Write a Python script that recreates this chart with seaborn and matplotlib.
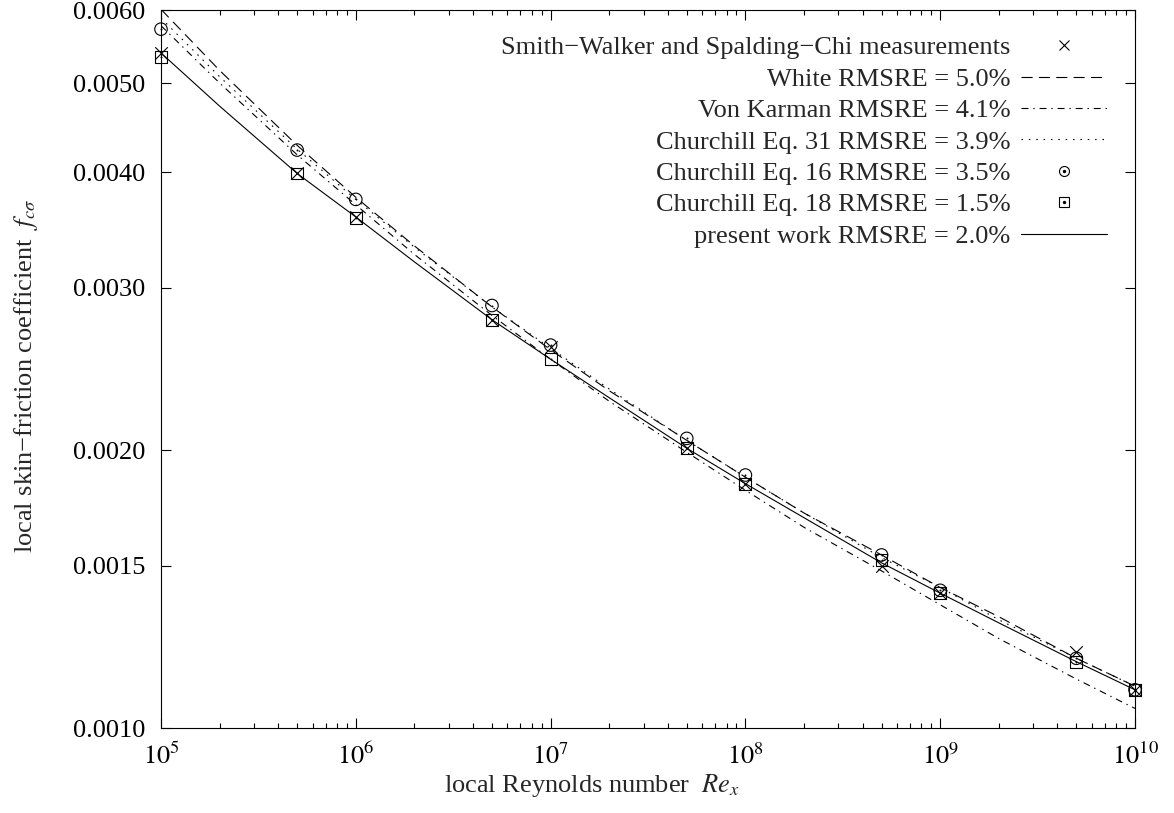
import numpy as np
import pandas as pd
import matplotlib
matplotlib.use("Agg")
import matplotlib.pyplot as plt
from matplotlib.lines import Line2D
from matplotlib.legend_handler import HandlerTuple
from matplotlib.ticker import FixedLocator, FixedFormatter, NullLocator, LogLocator
import seaborn as sns

# Reynolds numbers at which the correlations are tabulated
re_curve = [1e5, 2e5, 5e5, 1e6, 2e6, 5e6, 1e7, 2e7, 5e7, 1e8, 2e8, 5e8, 1e9, 2e9, 5e9, 1e10]
white = [0.00601, 0.00516, 0.00428, 0.00376, 0.00333, 0.00286, 0.00257, 0.00232,
         0.00205, 0.00187, 0.00171, 0.00154, 0.00142, 0.00132, 0.00119, 0.00111]
von_karman = [0.00577, 0.00500, 0.00418, 0.00369, 0.00326, 0.00280, 0.00251, 0.00226,
              0.00199, 0.00181, 0.00165, 0.00148, 0.00136, 0.00125, 0.00113, 0.00105]
churchill31 = [0.00588, 0.00508, 0.00424, 0.00374, 0.00332, 0.00286, 0.00258, 0.00233,
               0.00205, 0.00187, 0.00171, 0.00153, 0.00142, 0.00131, 0.00119, 0.00111]
present = [0.00539, 0.00472, 0.00399, 0.00358, 0.00320, 0.00277, 0.00251, 0.00228,
           0.00201, 0.00184, 0.00169, 0.00151, 0.00140, 0.00130, 0.00118, 0.00110]

# Reynolds numbers of the discrete points
re_pts = [1e5, 5e5, 1e6, 5e6, 1e7, 5e7, 1e8, 5e8, 1e9, 5e9, 1e10]
measured = [0.00539, 0.00399, 0.00358, 0.00277, 0.00259, 0.00201, 0.00184, 0.00150,
            0.00140, 0.00121, 0.00110]
churchill16 = [0.00572, 0.00423, 0.00374, 0.00287, 0.00260, 0.00206, 0.00188, 0.00154,
               0.00141, 0.00119, 0.00110]
churchill18 = [0.00534, 0.00399, 0.00357, 0.00277, 0.00251, 0.00201, 0.00184, 0.00152,
               0.00140, 0.00118, 0.00110]

labels = [
    "Smith\u2212Walker and Spalding\u2212Chi measurements",
    "White RMSRE = 5.0%",
    "Von Karman RMSRE = 4.1%",
    "Churchill Eq. 31 RMSRE = 3.9%",
    "Churchill Eq. 16 RMSRE = 3.5%",
    "Churchill Eq. 18 RMSRE = 1.5%",
    "present work RMSRE = 2.0%",
]
y_ticks = [0.0010, 0.0015, 0.0020, 0.0030, 0.0040, 0.0050, 0.0060]
y_ticklabels = ["0.0010", "0.0015", "0.0020", "0.0030", "0.0040", "0.0050", "0.0060"]
x_ticks = [1e5, 1e6, 1e7, 1e8, 1e9, 1e10]
x_ticklabels = [r"$10^{5}$", r"$10^{6}$", r"$10^{7}$", r"$10^{8}$", r"$10^{9}$", r"$10^{10}$"]

sns.set_style("ticks")
plt.rcParams["font.family"] = ["Liberation Serif", "DejaVu Serif"]
plt.rcParams["mathtext.fontset"] = "stix"
plt.rcParams["font.size"] = 19
plt.rcParams["lines.scale_dashes"] = False

FS = 19
LW = 0.8
MS = 9

fig = plt.figure(figsize=(11.74, 8.13), dpi=100)
fig.patch.set_facecolor("white")
ax = fig.add_axes([161 / 1174, 1 - 728 / 813, 974 / 1174, 718 / 813])
ax.set_facecolor("white")

curves = pd.DataFrame({"Re": re_curve, "white": white, "vk": von_karman,
                       "ch31": churchill31, "present": present})
points = pd.DataFrame({"Re": re_pts, "meas": measured, "ch16": churchill16,
                       "ch18": churchill18})

ls_white = (0, (8, 4.5))
ls_vk = (0, (5, 3.5, 1, 3.5))
ls_ch31 = (0, (1.1, 4.2))

sns.scatterplot(data=points, x="Re", y="meas", marker="x", s=MS**2, color="k",
                linewidth=LW, ax=ax, zorder=5, clip_on=False)
sns.lineplot(data=curves, x="Re", y="white", color="k", lw=LW, linestyle=ls_white,
             estimator=None, ax=ax)
sns.lineplot(data=curves, x="Re", y="vk", color="k", lw=LW, linestyle=ls_vk,
             estimator=None, ax=ax)
sns.lineplot(data=curves, x="Re", y="ch31", color="k", lw=LW, linestyle=ls_ch31,
             estimator=None, ax=ax)
sns.scatterplot(data=points, x="Re", y="ch16", marker="o", s=MS**2, facecolor="none",
                edgecolor="k", linewidth=LW, ax=ax, zorder=5, clip_on=False)
sns.scatterplot(data=points, x="Re", y="ch16", marker="o", s=2, color="k",
                linewidth=0, ax=ax, zorder=5, clip_on=False)
sns.scatterplot(data=points, x="Re", y="ch18", marker="s", s=(MS * 0.95)**2, facecolor="none",
                edgecolor="k", linewidth=LW, ax=ax, zorder=5, clip_on=False)
sns.scatterplot(data=points, x="Re", y="ch18", marker="o", s=2, color="k",
                linewidth=0, ax=ax, zorder=5, clip_on=False)
sns.lineplot(data=curves, x="Re", y="present", color="k", lw=LW, linestyle="-",
             estimator=None, ax=ax)

ax.set_xscale("log")
ax.set_yscale("log")
ax.set_xlim(1e5, 1e10)
ax.set_ylim(0.0010, 0.0060)

ax.xaxis.set_major_locator(FixedLocator(x_ticks))
ax.xaxis.set_major_formatter(FixedFormatter(x_ticklabels))
ax.xaxis.set_minor_locator(LogLocator(base=10, subs=np.arange(2, 10), numticks=20))
ax.yaxis.set_major_locator(FixedLocator(y_ticks))
ax.yaxis.set_major_formatter(FixedFormatter(y_ticklabels))
ax.yaxis.set_minor_locator(NullLocator())

ax.tick_params(which="both", direction="in", top=True, right=True, width=LW,
               colors="k", labelsize=FS)
ax.tick_params(which="major", length=7.2)
ax.tick_params(which="minor", length=3.6)
ax.tick_params(axis="x", pad=11)
ax.tick_params(axis="y", pad=11)
for sp in ax.spines.values():
    sp.set_linewidth(LW)
    sp.set_color("k")
    sp.set_visible(True)

ax.set_xlabel(r"local Reynolds number  $Re_x$", fontsize=FS)
ax.set_ylabel("local skin\u2212friction coefficient  $f_{c\\sigma}$", fontsize=FS)
ax.xaxis.set_label_coords((592 - 161) / 974, -0.061)
ax.yaxis.set_label_coords(-0.124, 0.49)

h_meas = Line2D([], [], ls="", marker="x", ms=MS * 0.8, mew=LW, color="k")
h_white = Line2D([], [], color="k", lw=LW, ls=ls_white)
h_vk = Line2D([], [], color="k", lw=LW, ls=ls_vk)
h_ch31 = Line2D([], [], color="k", lw=LW, ls=ls_ch31)
h_ch16 = (Line2D([], [], ls="", marker="o", ms=MS * 0.8, mfc="none", mec="k", mew=LW),
          Line2D([], [], ls="", marker="o", ms=1.4, color="k"))
h_ch18 = (Line2D([], [], ls="", marker="s", ms=MS * 0.75, mfc="none", mec="k", mew=LW),
          Line2D([], [], ls="", marker="o", ms=1.4, color="k"))
h_present = Line2D([], [], color="k", lw=LW, ls="-")

leg = ax.legend([h_meas, h_white, h_vk, h_ch31, h_ch16, h_ch18, h_present], labels,
                loc="upper right", bbox_to_anchor=((1107 - 161) / 974, (728 - 36) / 718),
                frameon=False, markerfirst=False, handlelength=3.25, handletextpad=0.4,
                labelspacing=0.3, borderpad=0, borderaxespad=0, fontsize=FS,
                handler_map={tuple: HandlerTuple(ndivide=1, pad=0)})

fig.savefig("out.png", dpi=100, facecolor="white")
